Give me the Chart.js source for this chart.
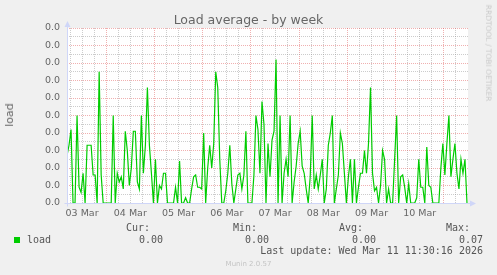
<!DOCTYPE html>
<html>
<head>
<meta charset="utf-8">
<title>Load average - by week</title>
<script src="https://cdn.jsdelivr.net/npm/chart.js@4.4.1/dist/chart.umd.min.js"></script>
<style>
  body { margin: 0; background: #f0f0f0; }
  #wrap { position: relative; width: 497px; height: 275px; overflow: hidden; font-family: "DejaVu Sans", sans-serif; color: #666; }
  #chart { position: absolute; left: 0; top: 0; }
  .t { position: absolute; white-space: nowrap; }
  .mono { font-family: "DejaVu Sans Mono", monospace; font-size: 10px; line-height: 10px; color: #555; }
  .r { text-align: right; }
</style>
</head>
<body>
<div id="wrap">
  <canvas id="chart" width="497" height="275"></canvas>

  <div class="t" style="left:0;width:497px;top:13px;text-align:center;font-size:12.5px;line-height:14px;">Load average - by week</div>
  <div class="t" style="left:10px;top:115px;font-size:11px;line-height:12px;transform:translate(-50%,-50%) rotate(-90deg);">load</div>
  <div class="t" style="left:488px;top:53px;font-size:7.5px;line-height:8px;color:#cacaca;transform:translate(-50%,-50%) rotate(90deg);">RRDTOOL / TOBI OETIKER</div>

  <!-- legend block -->
  <div class="t mono r" style="right:347px;top:223px;">Cur:</div>
  <div class="t mono r" style="right:240px;top:223px;">Min:</div>
  <div class="t mono r" style="right:134px;top:223px;">Avg:</div>
  <div class="t mono r" style="right:27px;top:223px;">Max:</div>

  <div class="t" style="left:14px;top:237px;width:6px;height:6px;background:#00cc00;"></div>
  <div class="t mono" style="left:27px;top:235px;">load</div>
  <div class="t mono r" style="right:334px;top:235px;">0.00</div>
  <div class="t mono r" style="right:228px;top:235px;">0.00</div>
  <div class="t mono r" style="right:121px;top:235px;">0.00</div>
  <div class="t mono r" style="right:14px;top:235px;">0.07</div>

  <div class="t mono r" style="right:14px;top:246px;">Last update: Wed Mar 11 11:30:16 2026</div>
  <div class="t" style="left:0;width:497px;top:260px;text-align:center;font-size:7px;line-height:8px;color:#c4c4c4;">Munin 2.0.57</div>
</div>

<script>
// hours are counted from 04 Mar 00:00; the graph runs 03 Mar 04:30 -> 11 Mar 11:30
const startHour = -19.5;
const endHour = 180;
const dayLabels = ['03 Mar', '04 Mar', '05 Mar', '06 Mar', '07 Mar', '08 Mar', '09 Mar', '10 Mar'];
const yTickLabels = ['0.0', '0.0', '0.0', '0.0', '0.0', '0.0', '0.0', '0.0', '0.0', '0.0', '0.0'];

// one sample per hour
const loadValues = [
  0.027, 0.033, 0.042, 0, 0, 0.050, 0.009, 0.006, 0.017, 0,
  0.033, 0.033, 0.033, 0.016, 0.016, 0, 0.075, 0.016, 0, 0,
  0, 0, 0, 0.050, 0, 0.017, 0.012, 0.015, 0.008, 0.041,
  0.030, 0.010, 0.020, 0.041, 0.041, 0.012, 0.008, 0.050, 0.017, 0.033,
  0.066, 0.033, 0.017, 0, 0.025, 0, 0.010, 0.008, 0.017, 0.017,
  0, 0, 0, 0, 0.009, 0, 0.024, 0, 0, 0.003,
  0, 0, 0.008, 0.015, 0.016, 0.009, 0.009, 0.008, 0.040, 0,
  0.020, 0.033, 0.020, 0.034, 0.075, 0.066, 0.025, 0, 0, 0.007,
  0.017, 0.033, 0.011, 0, 0.008, 0.016, 0.017, 0.008, 0.016, 0.041,
  0, 0, 0, 0.016, 0.050, 0.042, 0.017, 0.058, 0.045, 0,
  0.034, 0.015, 0.036, 0.041, 0.082, 0, 0.050, 0, 0.017, 0.025,
  0.015, 0.050, 0, 0.012, 0.021, 0.034, 0.041, 0.021, 0.017, 0.008,
  0, 0.015, 0.050, 0.008, 0.016, 0.008, 0.016, 0.025, 0, 0.008,
  0.033, 0.040, 0.050, 0, 0.008, 0.016, 0.040, 0.034, 0.017, 0,
  0.015, 0.025, 0, 0.025, 0, 0.009, 0.017, 0.017, 0.030, 0.017,
  0.034, 0.066, 0.017, 0.007, 0.009, 0, 0.010, 0.030, 0.025, 0,
  0.008, 0, 0, 0.025, 0.050, 0, 0.015, 0.016, 0.009, 0,
  0.011, 0, 0, 0, 0.003, 0.025, 0.009, 0.009, 0, 0.032,
  0.010, 0.009, 0, 0, 0, 0, 0.020, 0.034, 0.016, 0.034,
  0.050, 0.015, 0.025, 0.034, 0.017, 0.008, 0.025, 0.017, 0.025, 0
];

const majorGrid = 'rgba(222, 79, 79, 0.45)';
const minorGrid = 'rgba(143, 143, 143, 0.45)';
const axisColor = '#cfd6f8';
const tickFont = { family: 'DejaVu Sans', size: 9.5 };

// white canvas behind the plot
const canvasBg = {
  id: 'canvasBg',
  beforeDraw(chart) {
    const { ctx, chartArea: a } = chart;
    ctx.save();
    ctx.fillStyle = '#ffffff';
    ctx.fillRect(a.left, a.top, a.right - a.left, a.bottom - a.top);
    ctx.restore();
  }
};

// rrdtool style axis lines with arrow heads
const axisArrows = {
  id: 'axisArrows',
  afterDraw(chart) {
    const { ctx, chartArea: a } = chart;
    const x0 = Math.round(a.left) + 0.5;
    const y0 = Math.round(a.bottom) + 0.5;
    ctx.save();
    ctx.strokeStyle = axisColor;
    ctx.fillStyle = axisColor;
    ctx.lineWidth = 1;
    ctx.beginPath();
    ctx.moveTo(x0, y0 + 3);
    ctx.lineTo(x0, a.top - 2);
    ctx.moveTo(x0 - 3, y0);
    ctx.lineTo(a.right + 2, y0);
    ctx.stroke();
    ctx.beginPath();
    ctx.moveTo(x0 - 3, a.top - 1);
    ctx.lineTo(x0 + 3, a.top - 1);
    ctx.lineTo(x0, a.top - 7);
    ctx.closePath();
    ctx.fill();
    ctx.beginPath();
    ctx.moveTo(a.right + 2, y0 - 3);
    ctx.lineTo(a.right + 2, y0 + 3);
    ctx.lineTo(a.right + 8, y0);
    ctx.closePath();
    ctx.fill();
    ctx.restore();
  }
};

const points = loadValues.map((v, i) => ({ x: startHour + i, y: v }));

new Chart(document.getElementById('chart').getContext('2d'), {
  type: 'line',
  data: {
    datasets: [{
      label: 'load',
      data: points,
      borderColor: '#00cc00',
      borderWidth: 1.2,
      pointRadius: 0,
      tension: 0,
      fill: false
    }]
  },
  options: {
    responsive: false,
    animation: false,
    layout: { padding: { left: 7, right: 29, top: 28, bottom: 52 } },
    plugins: {
      legend: { display: false },
      tooltip: { enabled: false }
    },
    scales: {
      x: {
        type: 'linear',
        min: startHour,
        max: endHour,
        afterBuildTicks: (scale) => {
          scale.ticks = [];
          for (let h = -18; h < endHour; h += 6) scale.ticks.push({ value: h });
        },
        afterFit: (scale) => { scale.height = 20; },
        ticks: {
          autoSkip: false,
          maxRotation: 0,
          padding: 5,
          color: '#666',
          font: tickFont,
          callback: (value) => {
            const k = (value + 12) / 24;
            return Number.isInteger(k) && dayLabels[k] ? dayLabels[k] : '';
          }
        },
        grid: {
          drawTicks: false,
          color: (c) => (c.tick && c.tick.value % 24 === 0 ? majorGrid : minorGrid)
        },
        border: { display: false, dash: [1, 1] }
      },
      y: {
        min: 0,
        max: 0.1,
        afterBuildTicks: (scale) => {
          scale.ticks = [];
          for (let k = 0; k <= 20; k++) scale.ticks.push({ value: k * 0.005 });
        },
        afterFit: (scale) => { scale.width = 60; },
        ticks: {
          autoSkip: false,
          padding: 7,
          color: '#666',
          font: tickFont,
          callback: (value, index) => (index % 2 === 0 ? yTickLabels[index / 2] : '')
        },
        grid: {
          drawTicks: false,
          color: (c) => (c.index % 2 === 0 ? majorGrid : minorGrid)
        },
        border: { display: false, dash: [1, 1] }
      }
    }
  },
  plugins: [canvasBg, axisArrows]
});
</script>
</body>
</html>
